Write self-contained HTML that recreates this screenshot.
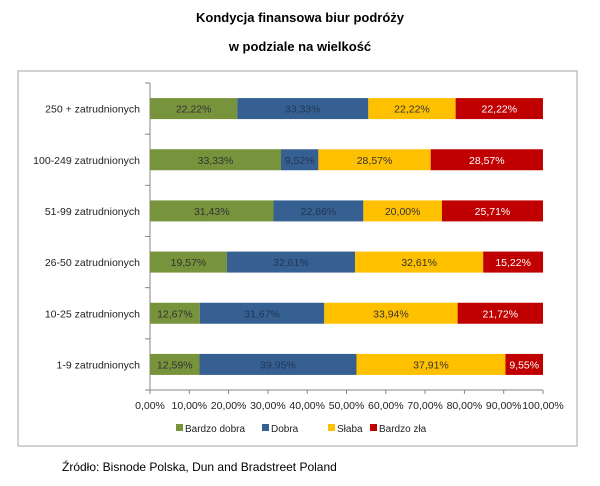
<!DOCTYPE html>
<html><head><meta charset="utf-8"><style>
body{margin:0;background:#fff;width:600px;height:481px;overflow:hidden;font-family:"Liberation Sans",sans-serif}
</style></head><body>
<svg width="600" height="481" xmlns="http://www.w3.org/2000/svg">
<text x="300" y="22" text-anchor="middle" font-size="13" font-weight="bold">Kondycja finansowa biur podróży</text>
<text x="300" y="51" text-anchor="middle" font-size="13" font-weight="bold">w podziale na wielkość</text>
<rect x="18" y="71" width="559" height="375" fill="#fff" stroke="#a6a6a6"/>
<g id="plot"></g>
<text x="62" y="471" font-size="12" fill="#000">Źródło: Bisnode Polska, Dun and Bradstreet Poland</text>
</svg>
<script>
const categories=["250 + zatrudnionych","100-249 zatrudnionych","51-99 zatrudnionych","26-50 zatrudnionych","10-25 zatrudnionych","1-9 zatrudnionych"];
const seriesNames=["Bardzo dobra","Dobra","Słaba","Bardzo zła"];
const bardzoDobra=[22.22,33.33,31.43,19.57,12.67,12.59];
const dobra=[33.33,9.52,22.86,32.61,31.67,39.95];
const slaba=[22.22,28.57,20.00,32.61,33.94,37.91];
const bardzoZla=[22.22,28.57,25.71,15.22,21.72,9.55];
const ticks=[0,10,20,30,40,50,60,70,80,90,100];
const series=[bardzoDobra,dobra,slaba,bardzoZla];
const colors=["#77933c","#376092","#ffc000","#c00000"];
const textColors=["#333","#1f3553","#333","#fff"];
const NS="http://www.w3.org/2000/svg";
const g=document.getElementById('plot');
const x0=150,x1=543,yTop=83,yBot=390;
const xs=v=>x0+(x1-x0)*v/100;
const band=(yBot-yTop)/categories.length;
const yc=i=>yTop+band*(i+0.5);
function el(t,a){const e=document.createElementNS(NS,t);for(const k in a)e.setAttribute(k,a[k]);g.appendChild(e);return e;}
function fmt(v){return v.toFixed(2).replace('.',',')+'%';}
let ax=el('line',{x1:x0,y1:yTop,x2:x0,y2:yBot,stroke:'#868686'});


for(let i=0;i<=categories.length;i++){const y=yTop+band*i;const t=el('line',{x1:x0-5,y1:y,x2:x0,y2:y,stroke:'#868686'});

}
let bx=el('line',{x1:x0,y1:yBot,x2:x1,y2:yBot,stroke:'#868686'});


ticks.forEach(v=>{const x=xs(v);const t=el('line',{x1:x,y1:yBot,x2:x,y2:yBot+4,stroke:'#868686'});


const l=el('text',{x:x,y:409,'text-anchor':'middle','font-size':'10.5',fill:'#222'});l.textContent=fmt(v);

});
categories.forEach((c,i)=>{const y=yc(i);
const l=el('text',{x:x0-10,y:y+4,'text-anchor':'end','font-size':'10.5',fill:'#222'});l.textContent=c;


let acc=0;series.forEach((s,k)=>{const v=s[i];
const r=el('rect',{x:xs(acc),y:y-10.5,width:xs(acc+v)-xs(acc),height:21,fill:colors[k]});


const tx=el('text',{x:(xs(acc)+xs(acc+v))/2,y:y+4,'text-anchor':'middle','font-size':'10.5',fill:textColors[k]});tx.textContent=fmt(v);


acc+=v;});});
const lx=[176,262,328,370];
seriesNames.forEach((n,k)=>{const r=el('rect',{x:lx[k],y:424,width:7,height:7,fill:colors[k]});


const t=el('text',{x:lx[k]+9,y:432,'font-size':'10',fill:'#222'});t.textContent=n;

});
</script>
</body></html>
